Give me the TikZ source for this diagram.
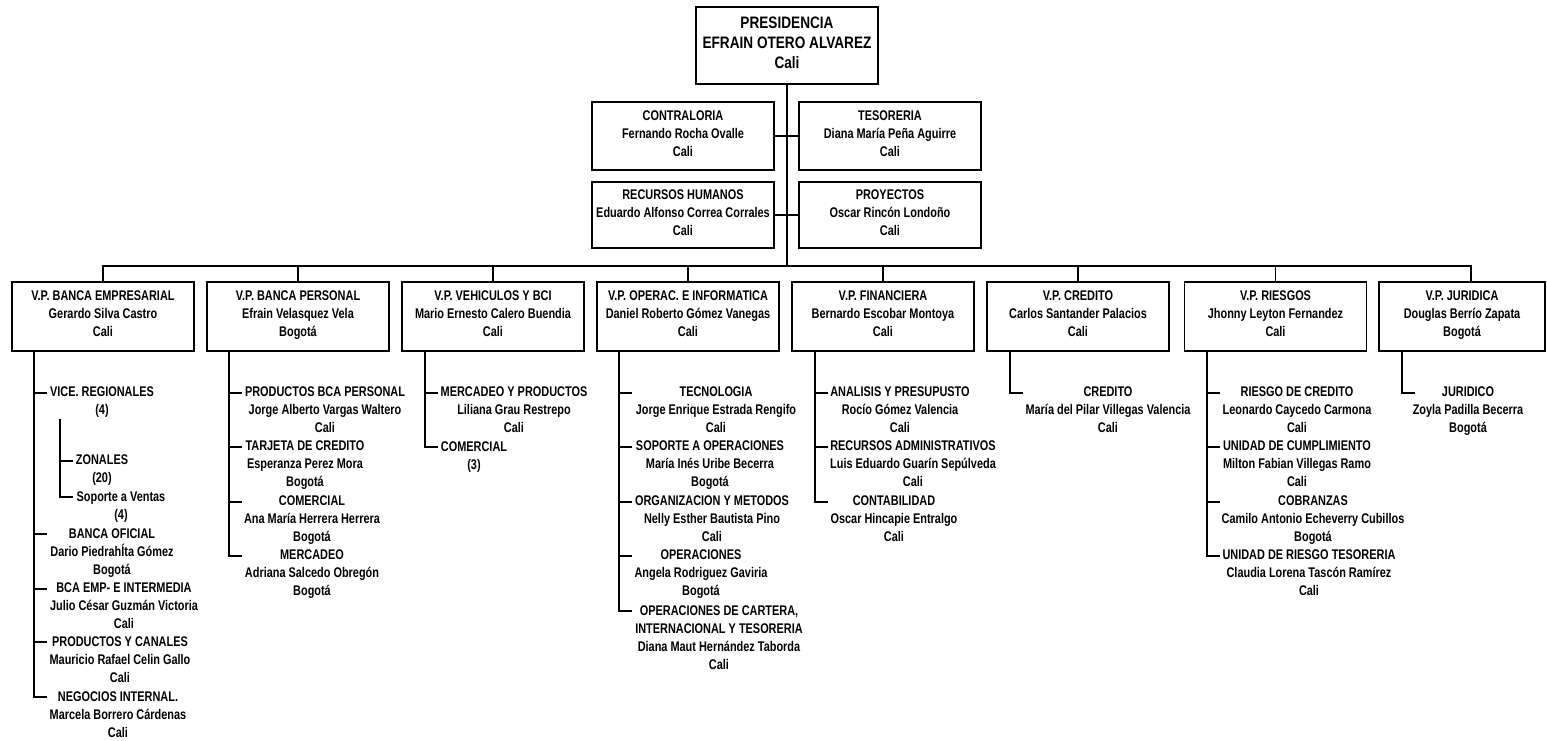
\documentclass[tikz,border=0pt]{standalone}
\usepackage{fontspec}
\newfontfamily\narrowfam{Liberation Sans}[FakeStretch=0.78]
\newfontfamily\narrowbig{Liberation Sans}[FakeStretch=0.82]
\newcommand\fsmall{\narrowfam\bfseries\fontsize{14}{18}\selectfont}
\newcommand\fbig{\narrowbig\bfseries\fontsize{16.6}{20}\selectfont}
\tikzset{
  box/.style={draw, line width=1.5pt, minimum width=182pt, minimum height=69pt, align=center, inner sep=0pt, font=\fsmall,
    execute at begin node=\strut, execute at end node=\strut},
  sub/.style={align=center, inner sep=0pt, font=\fsmall,
    execute at begin node=\strut, execute at end node=\strut},
  con/.style={line width=1.2pt}
}
\begin{document}
\begin{tikzpicture}[x=1pt,y=-1pt]
\useasboundingbox (0,0) rectangle (1547,740);
% top level
\node[box, font=\fbig, minimum height=77pt] (pres) at (787,45.5) {PRESIDENCIA\\EFRAIN OTERO ALVAREZ\\Cali};
\node[box, minimum height=68pt] (contra) at (683,136) {CONTRALORIA\\Fernando Rocha Ovalle\\Cali};
\node[box, minimum height=68pt] (teso) at (890,136) {TESORERIA\\Diana María Peña Aguirre\\Cali};
\node[box, minimum height=66pt] (rrhh) at (683,215) {RECURSOS HUMANOS\\Eduardo Alfonso Correa Corrales\\Cali};
\node[box, minimum height=66pt] (proy) at (890,215) {PROYECTOS\\Oscar Rincón Londoño\\Cali};
% VPs
\node[box] (vp1) at (103,316.5) {V.P. BANCA EMPRESARIAL\\Gerardo Silva Castro\\Cali};
\node[box] (vp2) at (298,316.5) {V.P. BANCA PERSONAL\\Efrain Velasquez Vela\\Bogotá};
\node[box] (vp3) at (493,316.5) {V.P. VEHICULOS Y BCI\\Mario Ernesto Calero Buendia\\Cali};
\node[box] (vp4) at (688,316.5) {V.P. OPERAC. E INFORMATICA\\Daniel Roberto Gómez Vanegas\\Cali};
\node[box] (vp5) at (883,316.5) {V.P. FINANCIERA\\Bernardo Escobar Montoya\\Cali};
\node[box] (vp6) at (1078,316.5) {V.P. CREDITO\\Carlos Santander Palacios\\Cali};
\node[box] (vp7) at (1275.5,316.5) {V.P. RIESGOS\\Jhonny Leyton Fernandez\\Cali};
\node[box, minimum width=166pt] (vp8) at (1462,316.5) {V.P. JURIDICA\\Douglas Berrío Zapata\\Bogotá};
% top connectors
\coordinate (bus) at (787,266);
\coordinate (bus8) at (1471,266);
\draw[con] (pres.south) -- (bus);
\draw[con] (contra.east) -- (teso.west);
\draw[con] (rrhh.east) -- (proy.west);
\draw[con] (vp1.north) |- (bus8) -- (bus8 |- vp8.north);
\foreach \n in {2,...,7} \draw[con] (vp\n.north) -- (vp\n.north |- bus);
% column 1
\node[sub] (s11) at (102,403.4) {VICE. REGIONALES\\(4)};
\node[sub] (s12) at (102,471.5) {ZONALES\\(20)};
\node[sub] (s13) at (121,508) {Soporte a Ventas\\(4)};
\node[sub] (s14) at (112,554) {BANCA OFICIAL\\Dario PiedrahÍta Gómez\\Bogotá};
\node[sub] (s15) at (124,608.4) {BCA EMP- E INTERMEDIA\\Julio César Guzmán Victoria\\Cali};
\node[sub] (s16) at (120,662) {PRODUCTOS Y CANALES\\Mauricio Rafael Celin Gallo\\Cali};
\node[sub] (s17) at (118,717) {NEGOCIOS INTERNAL.\\Marcela Borrero Cárdenas\\Cali};
\coordinate (k1) at (34,697);
\draw[con] (vp1.south -| k1) -- (k1) -- ++(13,0);
\foreach \y in {393,534,589,642} \draw[con] (34,\y) -- ++(13,0);
\coordinate (k1b) at (60,497);
\draw[con] (60,419) -- (k1b) -- ++(13,0);
\draw[con] (60,461) -- ++(13,0);
% column 2
\node[sub] (s21) at (325,412.4) {PRODUCTOS BCA PERSONAL\\Jorge Alberto Vargas Waltero\\Cali};
\node[sub] (s22) at (305,466.4) {TARJETA DE CREDITO\\Esperanza Perez Mora\\Bogotá};
\node[sub] (s23) at (312,521.4) {COMERCIAL\\Ana María Herrera Herrera\\Bogotá};
\node[sub] (s24) at (312,575.7) {MERCADEO\\Adriana Salcedo Obregón\\Bogotá};
\coordinate (k2) at (229,556);
\draw[con] (vp2.south -| k2) -- (k2) -- ++(13,0);
\foreach \y in {393,447,502} \draw[con] (229,\y) -- ++(13,0);
% column 3
\node[sub] (s31) at (514,412.4) {MERCADEO Y PRODUCTOS\\Liliana Grau Restrepo\\Cali};
\node[sub] (s32) at (474,458) {COMERCIAL\\(3)};
\coordinate (k3) at (425,447);
\draw[con] (vp3.south -| k3) -- (k3) -- ++(13,0);
\draw[con] (425,393) -- ++(13,0);
% column 4
\node[sub] (s41) at (716,412.4) {TECNOLOGIA\\Jorge Enrique Estrada Rengifo\\Cali};
\node[sub] (s42) at (710,466.4) {SOPORTE A OPERACIONES\\María Inés Uribe Becerra\\Bogotá};
\node[sub] (s43) at (712,521.4) {ORGANIZACION Y METODOS\\Nelly Esther Bautista Pino\\Cali};
\node[sub] (s44) at (701,575.7) {OPERACIONES\\Angela Rodriguez Gaviria\\Bogotá};
\node[sub] (s45) at (719,640) {OPERACIONES DE CARTERA,\\INTERNACIONAL Y TESORERIA\\Diana Maut Hernández Taborda\\Cali};
\coordinate (k4) at (619,611);
\draw[con] (vp4.south -| k4) -- (k4) -- ++(13,0);
\foreach \y in {393,447,502,556} \draw[con] (619,\y) -- ++(13,0);
% column 5
\node[sub] (s51) at (900,412.4) {ANALISIS Y PRESUPUSTO\\Rocío Gómez Valencia\\Cali};
\node[sub] (s52) at (913,466.4) {RECURSOS ADMINISTRATIVOS\\Luis Eduardo Guarín Sepúlveda\\Cali};
\node[sub] (s53) at (894,521.4) {CONTABILIDAD\\Oscar Hincapie Entralgo\\Cali};
\coordinate (k5) at (815,502);
\draw[con] (vp5.south -| k5) -- (k5) -- ++(13,0);
\foreach \y in {393,447} \draw[con] (815,\y) -- ++(13,0);
% column 6
\node[sub] (s61) at (1108,412.4) {CREDITO\\María del Pilar Villegas Valencia\\Cali};
\coordinate (k6) at (1010,393);
\draw[con] (vp6.south -| k6) -- (k6) -- ++(13,0);
% column 7
\node[sub] (s71) at (1297,412.4) {RIESGO DE CREDITO\\Leonardo Caycedo Carmona\\Cali};
\node[sub] (s72) at (1297,466.4) {UNIDAD DE CUMPLIMIENTO\\Milton Fabian Villegas Ramo\\Cali};
\node[sub] (s73) at (1313,521.4) {COBRANZAS\\Camilo Antonio Echeverry Cubillos\\Bogotá};
\node[sub] (s74) at (1309,575.7) {UNIDAD DE RIESGO TESORERIA\\Claudia Lorena Tascón Ramírez\\Cali};
\coordinate (k7) at (1207,556);
\draw[con] (vp7.south -| k7) -- (k7) -- ++(13,0);
\foreach \y in {393,447,502} \draw[con] (1207,\y) -- ++(13,0);
% column 8
\node[sub] (s81) at (1468,412.4) {JURIDICO\\Zoyla Padilla Becerra\\Bogotá};
\coordinate (k8) at (1402,393);
\draw[con] (vp8.south -| k8) -- (k8) -- ++(13,0);
\end{tikzpicture}
\end{document}
